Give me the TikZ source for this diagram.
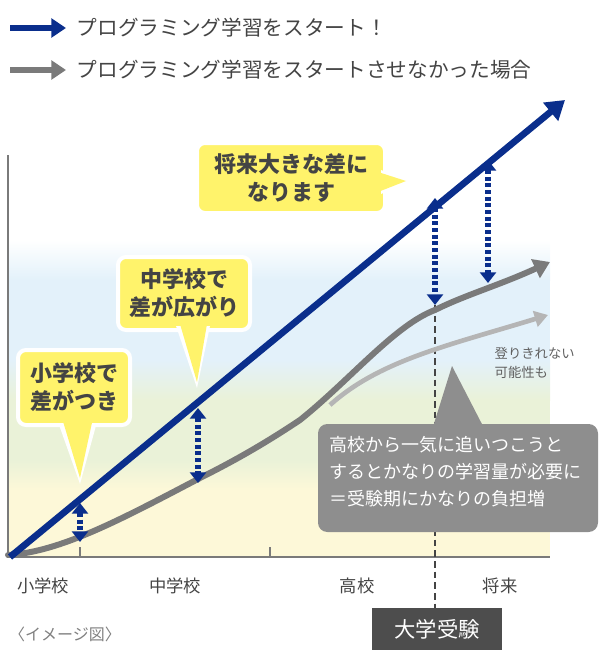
\documentclass[tikz,border=0pt]{standalone}
\usepackage{fontspec}
\setmainfont{Noto Sans CJK JP}
\usetikzlibrary{arrows.meta,calc}
\definecolor{navy}{HTML}{0A2E8C}
\definecolor{gline}{HTML}{7A7A7A}
\definecolor{lgline}{HTML}{B5B5B5}
\definecolor{yel}{HTML}{FFF36B}
\definecolor{txt}{HTML}{444444}
\definecolor{bandB}{HTML}{E3F1FA}
\definecolor{bandG}{HTML}{EAF2D8}
\definecolor{bandY}{HTML}{FDF8D8}
\tikzset{
 lab/.style={text=txt,font=\fontsize{13}{15}\selectfont},
 dbl/.style={navy,line width=4.5pt,dash pattern=on 3pt off 2pt,{Triangle[width=12pt,length=8pt]}-{Triangle[width=12pt,length=8pt]}},
 callout/.style={fill=yel,draw=white,line width=3pt,rounded corners=6pt},
 ctext/.style={text=txt,font=\bfseries\fontsize{16.5}{21}\selectfont,align=center}
}
\begin{document}
\begin{tikzpicture}[x=0.75pt,y=-0.75pt]
\useasboundingbox (0,0) rectangle (600,660);
% background bands
\shade[top color=white,bottom color=bandB] (8,240) rectangle (550,280);
\fill[bandB] (8,280) rectangle (550,360);
\shade[top color=bandB,bottom color=bandG] (8,360) rectangle (550,400);
\fill[bandG] (8,400) rectangle (550,460);
\shade[top color=bandG,bottom color=bandY] (8,460) rectangle (550,490);
\fill[bandY] (8,490) rectangle (550,557);
% legend
\coordinate (l1a) at (10,28); \coordinate (l1b) at (66,28);
\coordinate (l2a) at (10,70); \coordinate (l2b) at (66,70);
\draw[navy,line width=4pt,-{Triangle[width=14pt,length=11pt]}] (l1a) -- (l1b);
\draw[gline,line width=4pt,-{Triangle[width=14pt,length=11pt]}] (l2a) -- (l2b);
\node[lab,anchor=west,font=\fontsize{15.5}{18}\selectfont] (t1) at (72,28) {プログラミング学習をスタート！};
\node[lab,anchor=west,font=\fontsize{15.5}{18}\selectfont] (t2) at (72,70) {プログラミング学習をスタートさせなかった場合};
% axes
\coordinate (o) at (8,557); \coordinate (ytop) at (8,155); \coordinate (xend) at (550,557);
\draw[gline,line width=1.8pt] (ytop) -- (o) -- (xend);
\foreach \x in {80,270} \draw[gline,line width=1.5pt] (\x,547) -- (\x,557);
% dashed exam line
\coordinate (ex1) at (435,305); \coordinate (ex2) at (435,610);
\draw[txt,line width=1.2pt,dash pattern=on 5pt off 3pt] (ex1) -- (ex2);
% light gray curve
\coordinate (lg0) at (330,405); \coordinate (lg1) at (548,315);
\draw[lgline,line width=3.5pt,-{Triangle[width=12pt,length=10pt]}] (lg0) .. controls (380,360) and (450,345) .. (lg1);
% gray curve
\coordinate (g0) at (8,555); \coordinate (gm) at (300,420); \coordinate (gk) at (435,310); \coordinate (g1) at (550,262);
\draw[gline,line width=4.5pt,line cap=round] (g0) .. controls (60,552) and (120,520) .. (200,478) .. controls (240,458) and (270,440) .. (gm) .. controls (350,380) and (395,325) .. (gk);
\draw[gline,line width=4.5pt,-{Triangle[width=15pt,length=12pt]}] (gk) .. controls (465,295) and (500,285) .. (g1);
% blue line
\coordinate (b0) at (10,557); \coordinate (b1) at (565,100);
\draw[navy,line width=5pt,-{Triangle[width=17pt,length=14pt]}] (b0) -- (b1);
% double arrows
\draw[dbl] (80,503) -- (80,542);
\draw[dbl] (198,408) -- (198,483);
\draw[dbl] (435,198) -- (435,305);
\draw[dbl] (488,160) -- (488,283);
% callouts
\fill[white] (58,422) -- (80,484) -- (97,422) -- cycle;
\path[callout] (18,350) rectangle (130,425);
\fill[yel] (62,418) -- (80,478) -- (93,418) -- cycle;
\node[ctext] (c1t) at (74,387) {小学校で\\差がつき};
\path[callout] (118,257) rectangle (250,330);
\fill[white] (176,326) -- (197,388) -- (210,326) -- cycle;
\fill[yel] (180,324) -- (197,382) -- (207,324) -- cycle;
\node[ctext] (c2t) at (184,293) {中学校で\\差が広がり};
\path[callout] (197,143) rectangle (385,213);
\fill[white] (381,170) -- (412,181) -- (381,194) -- cycle;
\fill[yel] (378,172) -- (406,181) -- (378,192) -- cycle;
\node[ctext] (c3t) at (291,178) {将来大きな差に\\なります};
% gray callout
\fill[gline!85] (452,366) -- (485,430) -- (432,430) -- cycle;
\fill[gline!85,rounded corners=7pt] (318,424) rectangle (598,532);
\node[text=white,font=\fontsize{13.5}{20}\selectfont,align=left,anchor=north west] (gt) at (325,432) {高校から一気に追いつこうと\\するとかなりの学習量が必要に\\＝受験期にかなりの負担増};
\node[text=txt!85,font=\fontsize{10}{14}\selectfont,align=left,anchor=west] (nt) at (490,363) {登りきれない\\可能性も};
% labels
\node[lab] (s1) at (43,586) {小学校};
\node[lab] (s2) at (175,586) {中学校};
\node[lab] (s3) at (357,586) {高校};
\node[lab] (s4) at (500,586) {将来};
\node[lab,text=gray,font=\fontsize{12}{14}\selectfont] (im) at (65,634) {〈イメージ図〉};
\node[fill=txt!95,text=white,font=\fontsize{16}{18}\selectfont,minimum width=97pt,minimum height=31pt] (exam) at (437,629) {大学受験};
\end{tikzpicture}
\end{document}
